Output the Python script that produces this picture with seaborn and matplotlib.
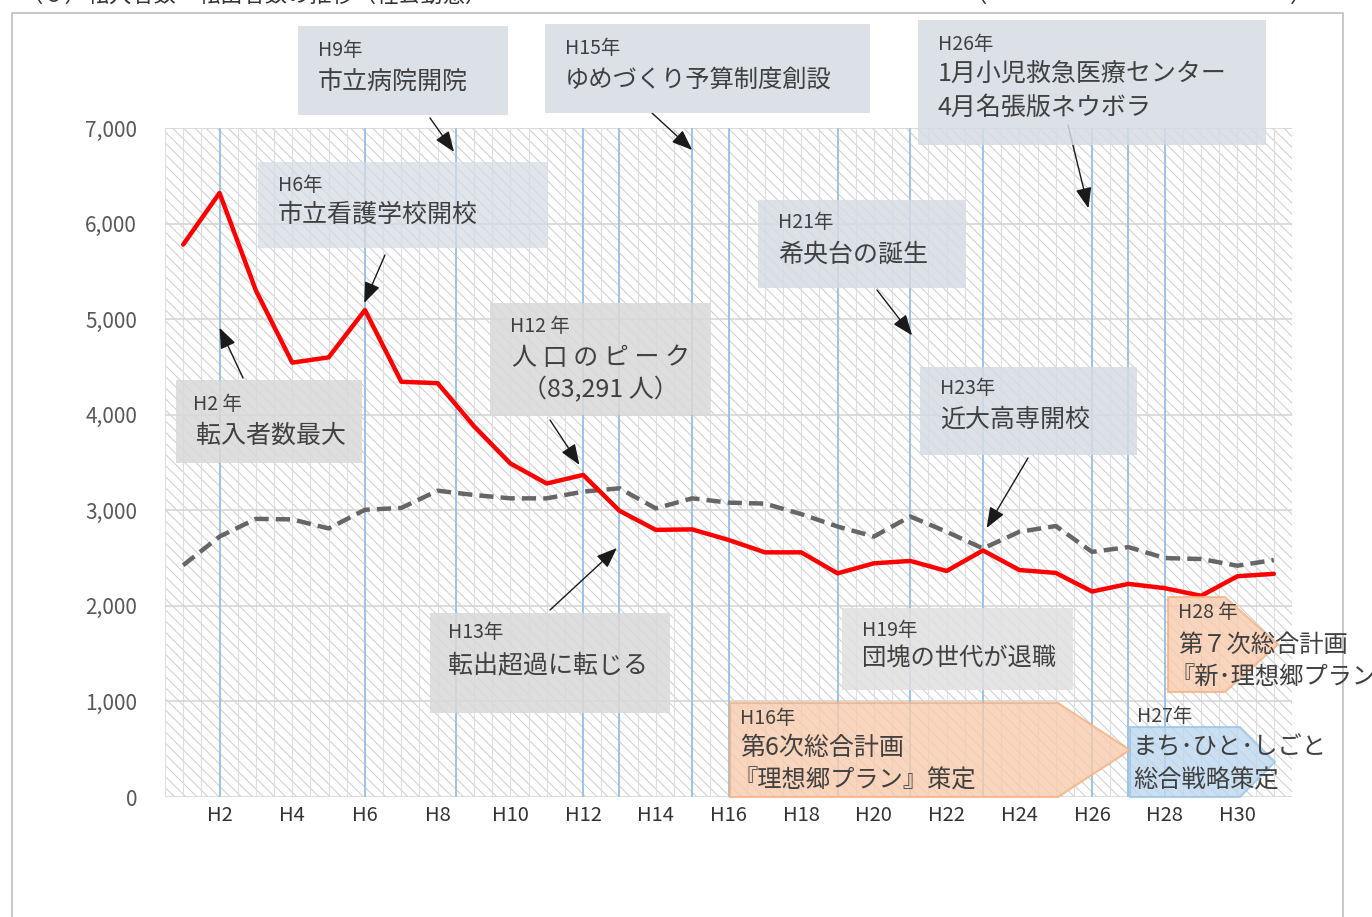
import numpy as np
import seaborn as sns
import matplotlib.pyplot as plt
from matplotlib.patches import Rectangle, Polygon

# data: Heisei years H1..H31
years = list(range(1, 32))
tennyu = [5780, 6320, 5300, 4545, 4600, 5095, 4345, 4330, 3880, 3490, 3280,
          3370, 2995, 2795, 2800, 2690, 2560, 2560, 2340, 2445, 2470, 2365,
          2580, 2375, 2345, 2150, 2230, 2185, 2105, 2310, 2335]
tenshutsu = [2425, 2725, 2910, 2905, 2810, 3005, 3025, 3205, 3160, 3125, 3125,
             3195, 3230, 3020, 3125, 3080, 3070, 2960, 2830, 2725, 2935, 2775,
             2600, 2775, 2835, 2565, 2615, 2500, 2490, 2420, 2480]
tick_years = list(range(2, 31, 2))
tick_labels = [f"H{y}" for y in tick_years]
event_years = [2, 6, 8.5, 12, 13, 15, 16, 19, 21, 23, 26, 27, 28]

sns.set_theme(style="white")
plt.rcParams['font.family'] = ['Noto Sans CJK JP', 'DejaVu Sans']
plt.rcParams['hatch.linewidth'] = 0.7

W, H = 1372, 917
fig = plt.figure(figsize=(W / 100, H / 100), dpi=100)
ax = fig.add_axes([165 / W, 1 - 797 / H, (1292 - 165) / W, (797 - 128) / H])


def fx(px):
    return px / W


def fy(py):
    return 1 - py / H


# hatched background
ax.add_patch(Rectangle((0, 0), 1, 1, transform=ax.transAxes, facecolor='white',
                       edgecolor='#cccccc', lw=0, hatch='\\\\\\', zorder=0.1))
ax.vlines(np.arange(0.5, 31.6, 0.5), 0, 7000, color='#dedede', lw=0.8, zorder=0.3)
for yv in range(0, 7001, 1000):
    ax.axhline(yv, color='#d6d6d6', lw=1.2, zorder=0.4)
ax.vlines(event_years, 0, 7000, color='#9dc3e6', lw=1.4, zorder=1)

sns.lineplot(x=years, y=tenshutsu, ax=ax, color='#666666', lw=3.2,
             linestyle=(0, (3.2, 1.6)), zorder=3)
sns.lineplot(x=years, y=tennyu, ax=ax, color='#ff0000', lw=3.2, zorder=4)

ax.set_xlim(0.5, 31.5)
ax.set_ylim(0, 7000)
ax.set_xticks(tick_years)
ax.set_xticklabels(tick_labels)
ax.set_yticks(range(0, 7001, 1000))
ax.set_yticklabels([f"{v:,}" for v in range(0, 7001, 1000)])
ax.tick_params(axis='x', length=0, pad=6, labelsize=14.5, labelcolor='#333333')
ax.tick_params(axis='y', length=0, pad=20, labelsize=15, labelcolor='#595959')
for s in ax.spines.values():
    s.set_visible(False)
ax.set_xlabel('')
ax.set_ylabel('')

# frame and cut-off title (cut at the top edge, as in the source)
fig.add_artist(Rectangle((fx(12), -0.1), (1343 - 12) / W, fy(12.5) + 0.1,
                         transform=fig.transFigure, fill=False,
                         edgecolor='#bfbfbf', lw=1.2, zorder=0))
fig.text(fx(20), fy(7), "（６）転入者数・転出者数の推移（社会動態）", va='bottom',
         fontsize=16, color='#333333')
fig.text(fx(965), fy(7), "（", va='bottom', fontsize=16, color='#333333')
fig.text(fx(1290), fy(7), "）", va='bottom', fontsize=16, color='#333333')

BLUEGRAY = '#d6dce5'
GRAY = '#d9d9d9'
TXT = '#404040'


def box(x0, y0, x1, y1, color, alpha=0.85):
    fig.add_artist(Rectangle((fx(x0), fy(y1)), (x1 - x0) / W, (y1 - y0) / H,
                             transform=fig.transFigure, facecolor=color,
                             edgecolor='none', alpha=alpha, zorder=2))


def pent(x0, y0, x1, xp, y1, face, edge):
    pts = [(fx(x0), fy(y0)), (fx(x1), fy(y0)), (fx(xp), fy((y0 + y1) / 2)),
           (fx(x1), fy(y1)), (fx(x0), fy(y1))]
    fig.add_artist(Polygon(pts, closed=True, transform=fig.transFigure,
                           facecolor=face, edgecolor=edge, lw=1.5, alpha=0.8,
                           zorder=2))


def label(x, y, s, size=18):
    fig.text(fx(x), fy(y), s, va='center', ha='left', fontsize=size,
             color=TXT, zorder=3)


def arrow(xd, yd, px, py):
    ax.annotate('', xy=(xd, yd), xycoords='data', xytext=(px, H - py),
                textcoords='figure pixels',
                arrowprops=dict(arrowstyle='-|>,head_length=0.9,head_width=0.35',
                                color='#1a1a1a', lw=1.0, shrinkA=0, shrinkB=0,
                                mutation_scale=14), zorder=5)


SMALL = 14

# annotation boxes
box(298, 26, 508, 115, BLUEGRAY)
label(318, 50, "H9年", SMALL)
label(318, 82, "市立病院開院")
arrow(8.45, 6750, 430, 118)

box(545, 24, 870, 113, BLUEGRAY)
label(565, 48, "H15年", SMALL)
label(565, 80, "ゆめづくり予算制度創設", 17.5)
arrow(15, 6770, 652, 113)

box(918, 20, 1266, 145, BLUEGRAY)
label(938, 44, "H26年", SMALL)
label(938, 74, "1月小児救急医療センター")
label(938, 108, "4月名張版ネウボラ")
arrow(25.9, 6160, 1068, 125)

box(258, 162, 547, 248, BLUEGRAY, 0.75)
label(278, 185, "H6年", SMALL)
label(278, 215, "市立看護学校開校")
arrow(5.98, 5170, 385, 255)

box(758, 200, 965, 288, BLUEGRAY)
label(778, 222, "H21年", SMALL)
label(778, 255, "希央台の誕生")
arrow(21.05, 4830, 877, 290)

box(490, 303, 710, 415, GRAY)
label(510, 326, "H12 年", SMALL)
label(512, 358, "人 口 の ピ ー ク")
label(522, 390, "（83,291 人）")
arrow(11.9, 3475, 550, 420)

box(176, 380, 362, 463, GRAY)
label(193, 405, "H2 年", SMALL)
label(196, 436, "転入者数最大")
arrow(2.0, 4910, 243, 378)

box(920, 367, 1137, 455, BLUEGRAY)
label(940, 388, "H23年", SMALL)
label(940, 420, "近大高専開校")
arrow(23.1, 2815, 1028, 458)

box(430, 613, 670, 713, GRAY)
label(448, 633, "H13年", SMALL)
label(448, 665, "転出超過に転じる")
arrow(12.93, 2605, 550, 610)

box(842, 608, 1073, 690, '#e0e0e0')
label(862, 630, "H19年", SMALL)
label(862, 658, "団塊の世代が退職", 17.5)

pent(730, 703, 1058, 1130, 797, '#f8cbad', '#f4b183')
label(740, 718, "H16年", SMALL)
label(740, 748, "第6次総合計画")
label(733, 781, "『理想郷プラン』策定", 17.5)

pent(1130, 727, 1240, 1275, 797, '#bdd7ee', '#9dc3e6')
label(1137, 717, "H27年", SMALL)
label(1133, 747, "まち･ひと･しごと", 17.5)
label(1133, 781, "総合戦略策定", 17.5)

pent(1168, 597, 1225, 1278, 692, '#f8cbad', '#f4b183')
label(1178, 612, "H28 年", SMALL)
label(1178, 645, "第７次総合計画", 17.5)
label(1170, 678, "『新･理想郷プラン』", 17.5)

fig.savefig("out.png", dpi=100)
